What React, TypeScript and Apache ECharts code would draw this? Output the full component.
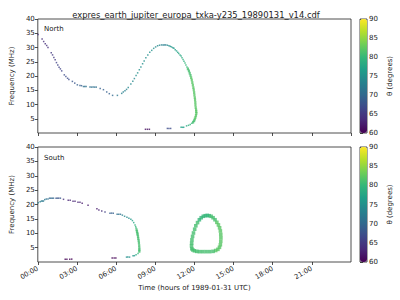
import React, { useEffect, useRef } from "react";
import * as echarts from "echarts";

// [time (hours), frequency (MHz), theta (degrees)]
const northPoints: number[][] = [
  [0.02, 34.6, 64], [0.33, 33.0, 64], [0.45, 32.1, 64], [0.57, 31.3, 64], [0.68, 30.7, 64], [0.78, 30.0, 64],
  [1.03, 28.2, 65], [1.13, 27.4, 65], [1.23, 26.5, 65], [1.33, 25.7, 65], [1.43, 24.7, 66], [1.53, 23.9, 66],
  [1.63, 23.1, 66], [1.73, 22.5, 66], [1.83, 21.8, 66], [2.03, 20.4, 67], [2.15, 19.8, 67], [2.28, 19.2, 67],
  [2.38, 18.8, 67], [2.65, 18.1, 68], [2.83, 17.5, 68], [3.03, 16.9, 69], [3.23, 16.7, 69], [3.35, 16.6, 69],
  [3.5, 16.3, 71], [3.6, 16.3, 71], [3.7, 16.3, 71], [4.0, 16.1, 71], [4.12, 16.1, 71], [4.24, 16.1, 71],
  [4.36, 16.1, 71], [4.48, 16.1, 71], [4.78, 15.6, 69], [5.03, 15.2, 69], [5.28, 14.4, 69], [5.48, 13.8, 69],
  [5.73, 13.2, 70], [6.1, 13.2, 72], [6.43, 13.9, 73], [6.55, 14.4, 73], [6.68, 14.8, 73], [6.8, 15.3, 73],
  [6.93, 16.0, 74], [7.13, 17.2, 74], [7.28, 18.2, 74], [7.4, 19.1, 74], [7.53, 20.2, 75], [7.65, 21.1, 75],
  [7.78, 22.2, 75], [7.9, 23.2, 75], [8.03, 24.3, 75], [8.15, 25.3, 75], [8.28, 26.4, 75], [8.43, 27.4, 75],
  [8.58, 28.3, 75], [8.73, 29.0, 75], [8.88, 29.7, 75], [9.03, 30.2, 74], [9.18, 30.6, 74], [9.33, 30.8, 74],
  [9.48, 30.9, 73], [9.6, 30.9, 73], [9.7, 30.9, 73], [9.8, 30.9, 73], [9.93, 30.8, 74], [10.05, 30.6, 75],
  [10.15, 30.4, 75], [10.25, 30.2, 76], [10.35, 29.9, 76], [10.43, 29.7, 76], [10.53, 29.2, 77], [10.63, 28.8, 77],
  [10.72, 28.3, 77], [10.8, 27.9, 78], [10.9, 27.4, 78], [10.98, 27.0, 78], [11.05, 26.4, 79], [11.13, 25.8, 79],
  [11.2, 25.2, 79], [11.28, 24.6, 80], [11.35, 23.9, 80], [11.43, 23.2, 80], [11.5, 22.5, 81], [11.58, 21.8, 81],
  [11.64, 21.0, 81], [11.7, 20.2, 81], [11.75, 19.4, 82], [11.8, 18.6, 82], [11.84, 17.7, 82], [11.88, 16.8, 82],
  [11.92, 15.9, 82], [11.95, 15.1, 82], [11.98, 14.2, 82], [12.0, 13.3, 82], [12.03, 12.4, 82], [12.05, 11.6, 82],
  [12.07, 10.7, 82], [12.08, 9.8, 82], [12.1, 8.9, 82], [12.13, 8.1, 82], [12.14, 7.5, 82], [12.15, 6.9, 82],
  [12.12, 6.2, 82], [12.08, 5.5, 82], [12.03, 4.9, 82], [11.98, 4.3, 81], [11.9, 3.8, 81], [11.8, 3.4, 80],
  [11.68, 3.0, 80], [11.55, 2.7, 79], [11.4, 2.5, 78], [11.18, 2.0, 77], [11.08, 2.0, 77], [10.98, 2.0, 77],
  [10.18, 1.6, 67], [10.05, 1.6, 67], [9.93, 1.6, 67], [8.55, 1.3, 61], [8.4, 1.3, 61], [8.25, 1.3, 61],
];

const southPoints: number[][] = [
  [0.03, 20.6, 73], [0.18, 21.0, 73], [0.28, 21.2, 72], [0.36, 21.2, 72], [0.43, 21.2, 72], [0.53, 21.7, 72],
  [0.65, 21.9, 71], [0.78, 21.9, 71], [0.9, 22.2, 70], [1.0, 22.2, 70], [1.1, 22.2, 70], [1.2, 22.2, 70],
  [1.4, 22.2, 68], [1.5, 22.2, 68], [1.6, 22.2, 68], [1.73, 22.2, 68], [1.97, 21.8, 64], [2.33, 21.5, 63],
  [2.48, 21.5, 63], [2.7, 21.1, 63], [2.85, 21.1, 63], [3.08, 20.8, 63], [3.23, 20.8, 63], [3.4, 20.4, 62],
  [3.85, 19.7, 62], [4.53, 18.5, 62], [4.68, 18.1, 63], [4.9, 17.7, 64], [5.15, 17.4, 66], [5.53, 17.0, 69],
  [5.65, 17.0, 69], [5.78, 17.0, 69], [6.08, 16.6, 71], [6.2, 16.6, 71], [6.33, 16.6, 71], [6.48, 16.3, 73],
  [6.65, 15.9, 74], [6.83, 15.6, 74], [6.98, 15.2, 75], [7.13, 14.9, 76], [7.25, 14.4, 77], [7.35, 13.7, 78],
  [7.45, 12.9, 79], [7.5, 12.3, 80], [7.53, 11.8, 80], [7.57, 11.2, 81], [7.6, 10.6, 81], [7.63, 10.0, 81],
  [7.65, 9.5, 81], [7.68, 8.8, 81], [7.7, 8.1, 81], [7.73, 7.4, 81], [7.75, 6.6, 81], [7.77, 5.7, 81],
  [7.78, 4.8, 81], [7.78, 4.2, 81], [7.78, 3.7, 81], [7.68, 3.0, 80], [7.53, 2.5, 78], [7.4, 2.2, 76],
  [7.3, 2.2, 76], [7.03, 1.7, 75], [6.9, 1.7, 75], [6.8, 1.7, 75], [5.98, 1.4, 60], [5.85, 1.4, 60],
  [5.7, 1.4, 60], [2.6, 1.0, 60], [2.45, 1.0, 60], [2.23, 1.0, 60], [2.1, 1.0, 60],
];

const southLoop: number[][] = [
  [11.8, 4.6, 81], [11.78, 5.6, 81], [11.79, 6.6, 81], [11.81, 7.7, 81], [11.86, 8.9, 81], [11.93, 10.1, 81],
  [12.02, 11.4, 81], [12.11, 12.6, 81], [12.24, 13.7, 81], [12.38, 14.7, 80], [12.52, 15.4, 80], [12.68, 15.9, 80],
  [12.83, 16.1, 80], [12.98, 16.2, 80], [13.13, 16.1, 80], [13.28, 15.9, 81], [13.43, 15.4, 81], [13.58, 14.7, 81],
  [13.72, 13.8, 82], [13.84, 12.9, 82], [13.93, 11.9, 82], [13.99, 10.8, 82], [14.02, 9.6, 82], [14.03, 8.4, 82],
  [14.02, 7.2, 82], [13.99, 6.0, 82], [13.92, 5.1, 82], [13.8, 4.4, 82], [13.63, 4.0, 82], [13.43, 3.7, 81],
  [13.17, 3.6, 81], [12.9, 3.6, 81], [12.64, 3.6, 81], [12.38, 3.6, 81], [12.18, 3.7, 81], [12.0, 3.9, 81],
  [11.88, 4.2, 81],
];

const timeTicks = [0, 3, 6, 9, 12, 15, 18, 21];
const freqRange = [0, 40];
const thetaRange = [60, 90];
const viridis = ["#440154", "#482878", "#3e4989", "#31688e", "#26828e", "#1f9e89", "#35b779", "#6ece58", "#b5de2b", "#fde725"];

const FONT = "DejaVu Sans";
const INK = "#222";

export default function App() {
  const ref = useRef<HTMLDivElement>(null);
  useEffect(() => {
    if (!ref.current) return;
    const chart = echarts.init(ref.current, undefined, { renderer: "svg" });
    const fmtTime = (v: number) => (timeTicks.includes(v) ? String(v).padStart(2, "0") + ":00" : "");
    const plotGrid = (top: number, height: number) => ({
      left: 31, top, width: 320, height, show: true, borderColor: INK, borderWidth: 0.8, backgroundColor: "transparent",
    });
    const cbGrid = (top: number, height: number) => ({
      left: 360, top, width: 7, height, show: true, borderColor: INK, borderWidth: 0.8, backgroundColor: "transparent",
    });
    const xBase = (gi: number, labels: boolean) => ({
      gridIndex: gi, type: "value", min: 0, max: 24, interval: 3,
      axisLine: { show: false },
      axisTick: { show: true, length: 3, lineStyle: { color: INK, width: 0.8 } },
      splitLine: { show: false },
      axisLabel: labels
        ? { show: true, rotate: 30, fontSize: 6.8, fontFamily: FONT, color: INK, margin: 6, formatter: fmtTime, showMaxLabel: false }
        : { show: false },
      ...(labels
        ? { name: "Time (hours of 1989-01-31 UTC)", nameLocation: "middle", nameGap: 22, nameTextStyle: { fontSize: 7, fontFamily: FONT, color: INK } }
        : {}),
    });
    const yBase = (gi: number) => ({
      gridIndex: gi, type: "value", min: freqRange[0], max: freqRange[1], interval: 5,
      axisLine: { show: false },
      axisTick: { show: true, length: 3, lineStyle: { color: INK, width: 0.8 } },
      splitLine: { show: false },
      axisLabel: { fontSize: 7, fontFamily: FONT, color: INK, margin: 3, showMinLabel: false },
      name: "Frequency (MHz)", nameLocation: "middle", nameGap: 17,
      nameTextStyle: { fontSize: 7, fontFamily: FONT, color: INK },
    });
    const yCb = (gi: number) => ({
      gridIndex: gi, type: "value", position: "right", min: thetaRange[0], max: thetaRange[1], interval: 5,
      axisLine: { show: false },
      axisTick: { show: true, length: 3, lineStyle: { color: INK, width: 0.8 } },
      splitLine: { show: false },
      axisLabel: { fontSize: 7, fontFamily: FONT, color: INK, margin: 2 },
      name: "θ (degrees)", nameLocation: "middle", nameGap: 19, nameRotate: 90,
      nameTextStyle: { fontSize: 7, fontFamily: FONT, color: INK },
    });
    const vm = (top: number, height: number, seriesIndex: number | number[]) => ({
      type: "continuous", min: thetaRange[0], max: thetaRange[1], dimension: 2, seriesIndex,
      left: 360, top, itemWidth: 7, itemHeight: height, padding: 0, calculable: false, hoverLink: false,
      inRange: { color: viridis }, textStyle: { fontSize: 0 },
    });
    const dotSize = (v: number[]) => (v[2] >= 81 ? [2.2, 2.8] : 1.5);
    chart.setOption({
      animation: false,
      backgroundColor: "#fff",
      textStyle: { fontFamily: FONT },
      title: {
        text: "expres_earth_jupiter_europa_txka-y235_19890131_v14.cdf",
        left: 191, top: 6, textAlign: "center",
        textStyle: { fontSize: 8.4, fontWeight: "normal", fontFamily: FONT, color: INK },
      },
      grid: [plotGrid(19, 114), plotGrid(147, 115), cbGrid(19, 114), cbGrid(147, 115)],
      xAxis: [
        xBase(0, false), xBase(1, true),
        { gridIndex: 2, type: "value", show: false, min: 0, max: 1 },
        { gridIndex: 3, type: "value", show: false, min: 0, max: 1 },
      ],
      yAxis: [yBase(0), yBase(1), yCb(2), yCb(3)],
      visualMap: [vm(19, 114, 0), vm(147, 115, [1, 2])],
      graphic: [
        { type: "text", left: 44, top: 25, style: { text: "North", fontSize: 7, fontFamily: FONT, fill: INK } },
        { type: "text", left: 44, top: 154, style: { text: "South", fontSize: 7, fontFamily: FONT, fill: INK } },
      ],
      series: [
        { type: "scatter", xAxisIndex: 0, yAxisIndex: 0, data: northPoints, symbol: "rect", symbolSize: dotSize },
        { type: "scatter", xAxisIndex: 1, yAxisIndex: 1, data: southPoints, symbol: "rect", symbolSize: dotSize },
        { type: "scatter", xAxisIndex: 1, yAxisIndex: 1, data: southLoop, symbol: "rect", symbolSize: 3.6 },
      ],
    });
    return () => chart.dispose();
  }, []);
  return <div ref={ref} style={{ position: "fixed", left: 0, top: 0, width: 400, height: 300 }} />;
}
